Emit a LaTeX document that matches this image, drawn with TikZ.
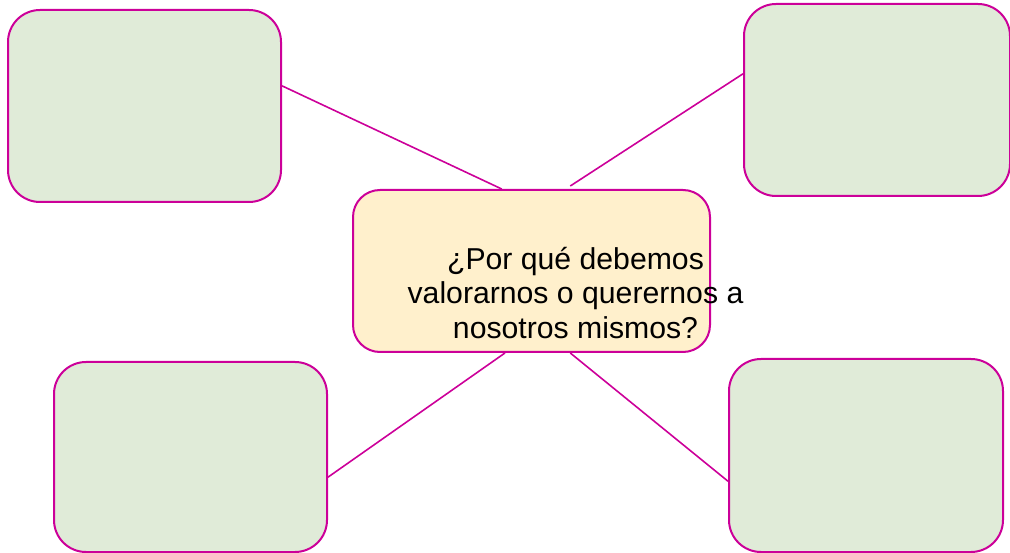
\documentclass[tikz,border=0pt]{standalone}
\usepackage{fontspec}
\setmainfont{Liberation Sans}
\usetikzlibrary{calc,backgrounds}
\definecolor{mag}{HTML}{CC0099}
\definecolor{leaf}{HTML}{E0EBD8}
\definecolor{cream}{HTML}{FFF0CC}
\begin{document}
\begin{tikzpicture}[x=1pt,y=-1pt,
  box/.style={draw=mag, line width=2pt, fill=leaf, rounded corners=32pt, inner sep=0pt},
  hub/.style={draw=mag, line width=2pt, fill=cream, rounded corners=27pt, inner sep=0pt},
  link/.style={draw=mag, line width=1.6pt}]
\useasboundingbox (0,0) rectangle (1010,553);
\node[box, minimum width=273pt, minimum height=192pt] (tl) at (144.5,106) {};
\node[box, minimum width=266pt, minimum height=192pt] (tr) at (877,100) {};
\node[box, minimum width=273pt, minimum height=190pt] (bl) at (190.5,457) {};
\node[box, minimum width=274pt, minimum height=193pt] (br) at (866,455.5) {};
\node[hub, minimum width=357pt, minimum height=162pt] (c) at (531.5,271) {};
\node[font=\fontsize{30.2}{34.4}\selectfont, align=center, inner sep=0pt] (q) at (575.5,293) {¿Por qué debemos\\valorarnos o querernos a\\nosotros mismos?};
\begin{scope}[on background layer]
\draw[link] ($(tl.north east)!0.396!(tl.south east)$) -- ($(c.north west)!0.417!(c.north east)$);
\draw[link] ($(c.north west)!0.608!(c.north east)$) ++(0,-3) -- ($(tr.north west)!0.365!(tr.south west)$);
\draw[link] ($(c.south west)!0.426!(c.south east)$) -- ($(bl.north east)!0.605!(bl.south east)$);
\draw[link] ($(c.south west)!0.608!(c.south east)$) -- ($(br.north west)!0.632!(br.south west)$);
\end{scope}
\end{tikzpicture}
\end{document}
